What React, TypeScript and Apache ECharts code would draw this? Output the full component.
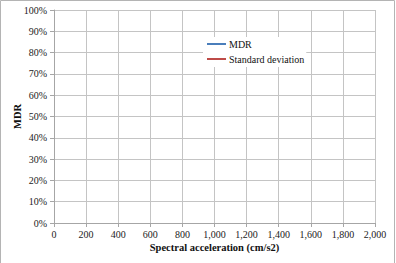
import React, { useEffect, useRef } from "react";
import * as echarts from "echarts";

const seriesNames = ["MDR", "Standard deviation"];
const seriesColors = ["#4A7EBB", "#BE4B48"];
const mdrValues: [number, number][] = [];
const stdValues: [number, number][] = [];
const xMin = 0;
const xMax = 2000;
const xStep = 200;
const yMin = 0;
const yMax = 100;
const yStep = 10;
const xTitle = "Spectral acceleration (cm/s2)";
const yTitle = "MDR";

const FONT = "'Liberation Serif', 'Times New Roman', serif";

export default function App() {
  const ref = useRef<HTMLDivElement>(null);
  useEffect(() => {
    if (!ref.current) return;
    const chart = echarts.init(ref.current, undefined, { renderer: "svg" });
    chart.setOption({
      animation: false,
      backgroundColor: "#ffffff",
      textStyle: { fontFamily: FONT },
      grid: {
        left: 54,
        top: 10,
        right: 21,
        bottom: 40,
        containLabel: false,
        outerBoundsMode: "none",
      },
      legend: {
        show: true,
        orient: "vertical",
        left: 203,
        top: 37,
        padding: [2, 2, 3, 4],
        backgroundColor: "#ffffff",
        itemWidth: 19,
        itemHeight: 2,
        itemGap: 5,
        icon: "rect",
        textStyle: { fontFamily: FONT, fontSize: 10, color: "#111", padding: [0, 0, 0, -2] },
        data: seriesNames,
      },
      xAxis: {
        type: "value",
        min: xMin,
        max: xMax,
        interval: xStep,
        name: xTitle,
        nameLocation: "middle",
        nameGap: 19,
        nameMoveOverlap: false,
        nameTextStyle: { fontFamily: FONT, fontSize: 10.5, fontWeight: "bold", color: "#111" },
        axisLine: { show: true, lineStyle: { color: "#A6A6A6", width: 1 } },
        axisTick: { show: true, length: 4, lineStyle: { color: "#A6A6A6" } },
        axisLabel: {
          fontFamily: FONT,
          fontSize: 10,
          color: "#222",
          margin: 6,
          formatter: (v: number) => v.toLocaleString("en-US"),
        },
        splitLine: { show: true, lineStyle: { color: "#C4C4C4", width: 1 } },
      },
      yAxis: {
        type: "value",
        min: yMin,
        max: yMax,
        interval: yStep,
        name: yTitle,
        nameLocation: "middle",
        nameGap: 31,
        nameRotate: 90,
        nameMoveOverlap: false,
        nameTextStyle: { fontFamily: FONT, fontSize: 10.5, fontWeight: "bold", color: "#111" },
        axisLine: { show: true, lineStyle: { color: "#A6A6A6", width: 1 } },
        axisTick: { show: true, length: 4, lineStyle: { color: "#A6A6A6" } },
        axisLabel: {
          fontFamily: FONT,
          fontSize: 10,
          color: "#222",
          margin: 7,
          formatter: "{value}%",
        },
        splitLine: { show: true, lineStyle: { color: "#C4C4C4", width: 1 } },
      },
      graphic: [
        {
          type: "rect",
          shape: { x: 0.5, y: 0.5, width: 394, height: 270 },
          style: { fill: "none", stroke: "#B4B4B4", lineWidth: 1 },
          silent: true,
        },
      ],
      series: [
        {
          name: seriesNames[0],
          type: "line",
          data: mdrValues,
          showSymbol: false,
          lineStyle: { color: seriesColors[0], width: 2 },
          itemStyle: { color: seriesColors[0] },
        },
        {
          name: seriesNames[1],
          type: "line",
          data: stdValues,
          showSymbol: false,
          lineStyle: { color: seriesColors[1], width: 2 },
          itemStyle: { color: seriesColors[1] },
        },
      ],
    });
    return () => chart.dispose();
  }, []);
  return (
    <div
      ref={ref}
      style={{ position: "fixed", left: 0, top: 0, width: 396, height: 263 }}
    />
  );
}
